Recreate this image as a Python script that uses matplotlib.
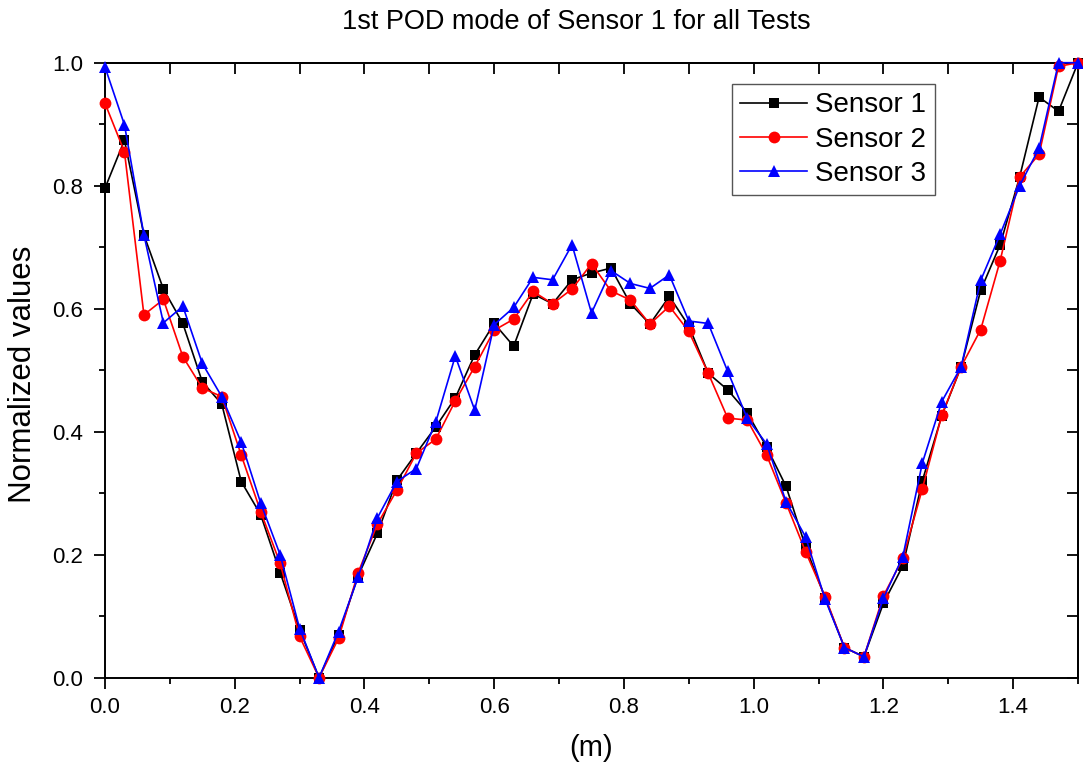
import matplotlib
matplotlib.use("Agg")
import matplotlib.pyplot as plt
from matplotlib.ticker import MultipleLocator
import numpy as np

plt.rcParams['font.family'] = ['Liberation Sans', 'DejaVu Sans']

# Position along the structure (m)
x_pos = [0.00, 0.03, 0.06, 0.09, 0.12, 0.15, 0.18, 0.21, 0.24, 0.27,
         0.30, 0.33, 0.36, 0.39, 0.42, 0.45, 0.48, 0.51, 0.54, 0.57,
         0.60, 0.63, 0.66, 0.69, 0.72, 0.75, 0.78, 0.81, 0.84, 0.87,
         0.90, 0.93, 0.96, 0.99, 1.02, 1.05, 1.08, 1.11, 1.14, 1.17,
         1.20, 1.23, 1.26, 1.29, 1.32, 1.35, 1.38, 1.41, 1.44, 1.47, 1.50]

sensor1 = [0.796, 0.874, 0.720, 0.632, 0.576, 0.481, 0.445, 0.319, 0.265, 0.171,
           0.078, 0.000, 0.070, 0.165, 0.235, 0.321, 0.365, 0.408, 0.455, 0.525,
           0.576, 0.539, 0.624, 0.608, 0.647, 0.658, 0.666, 0.608, 0.575, 0.620,
           0.572, 0.495, 0.468, 0.431, 0.375, 0.311, 0.213, 0.130, 0.049, 0.034,
           0.121, 0.182, 0.320, 0.426, 0.506, 0.630, 0.704, 0.814, 0.944, 0.921, 1.000]

sensor2 = [0.934, 0.855, 0.590, 0.615, 0.522, 0.471, 0.457, 0.362, 0.270, 0.186,
           0.067, 0.000, 0.064, 0.170, 0.250, 0.305, 0.365, 0.388, 0.450, 0.506,
           0.565, 0.583, 0.628, 0.608, 0.632, 0.673, 0.629, 0.614, 0.575, 0.604,
           0.563, 0.495, 0.422, 0.419, 0.362, 0.284, 0.205, 0.132, 0.049, 0.034,
           0.133, 0.194, 0.307, 0.427, 0.506, 0.566, 0.678, 0.814, 0.851, 0.994, 1.000]

sensor3 = [0.993, 0.899, 0.720, 0.577, 0.604, 0.511, 0.457, 0.383, 0.284, 0.200,
           0.080, 0.000, 0.075, 0.163, 0.260, 0.319, 0.340, 0.416, 0.523, 0.435,
           0.574, 0.602, 0.651, 0.647, 0.704, 0.593, 0.662, 0.641, 0.633, 0.655,
           0.580, 0.576, 0.498, 0.422, 0.380, 0.286, 0.229, 0.128, 0.049, 0.034,
           0.129, 0.197, 0.349, 0.449, 0.506, 0.646, 0.721, 0.800, 0.861, 1.000, 1.000]

labels = ["Sensor 1", "Sensor 2", "Sensor 3"]
colors = ["#000000", "#ff0000", "#0000ff"]
markers = ["s", "o", "^"]
msizes = [7.5, 8.5, 9]

W, H = 1083, 774
fig = plt.figure(figsize=(W / 100, H / 100), dpi=100)
ax = fig.add_axes([105 / W, 1 - 677.7 / H, (1078 - 105) / W, (677.7 - 62.7) / H])

for ys, lab, c, m, ms in zip([sensor1, sensor2, sensor3], labels, colors, markers, msizes):
    ax.plot(x_pos, ys, color=c, marker=m, markersize=ms, linewidth=1.2,
            markeredgewidth=0, label=lab, clip_on=False, zorder=3)

ax.set_xlim(0, 1.5)
ax.set_ylim(0, 1.0)
ax.xaxis.set_major_locator(MultipleLocator(0.2))
ax.xaxis.set_minor_locator(MultipleLocator(0.1))
ax.yaxis.set_major_locator(MultipleLocator(0.2))
ax.yaxis.set_minor_locator(MultipleLocator(0.1))
ax.xaxis.set_major_formatter(matplotlib.ticker.FormatStrFormatter('%.1f'))
ax.yaxis.set_major_formatter(matplotlib.ticker.FormatStrFormatter('%.1f'))

for s in ax.spines.values():
    s.set_linewidth(1.4)

ax.tick_params(which='both', direction='out', bottom=True, left=True,
               top=False, right=False, width=1.3, labelsize=16, colors='black')
ax.tick_params(which='major', length=8)
ax.tick_params(axis='x', which='major', pad=6)
ax.tick_params(axis='y', which='major', pad=8)
ax.tick_params(which='minor', length=4.5)

# mirrored inward ticks on top and right
secx = ax.secondary_xaxis('top')
secx.xaxis.set_major_locator(MultipleLocator(0.2))
secx.xaxis.set_minor_locator(MultipleLocator(0.1))
secx.tick_params(which='both', direction='in', width=1.3, labeltop=False)
secx.tick_params(which='major', length=8)
secx.tick_params(which='minor', length=8)
secy = ax.secondary_yaxis('right')
secy.yaxis.set_major_locator(MultipleLocator(0.2))
secy.yaxis.set_minor_locator(MultipleLocator(0.1))
secy.tick_params(which='both', direction='in', width=1.3, labelright=False)
secy.tick_params(which='major', length=8)
secy.tick_params(which='minor', length=8)
for sa in (secx, secy):
    for s in sa.spines.values():
        s.set_linewidth(1.4)

fig.text(576 / W, 1 - 22 / H, "1st POD mode of Sensor 1 for all Tests",
         ha='center', va='center', fontsize=19.5)
fig.text(23 / W, 1 - 374 / H, "Normalized values", rotation=90,
         ha='center', va='center', fontsize=22.5)
fig.text(591 / W, 1 - 748 / H, "(m)", ha='center', va='center', fontsize=21)

leg = ax.legend(loc='upper left', bbox_to_anchor=((732 - 105) / 973, (677.7 - 84) / 615),
                fontsize=20, frameon=True, fancybox=False, framealpha=1,
                edgecolor='#555555', borderpad=0.3, labelspacing=0.3,
                handlelength=2.4, handletextpad=0.3, borderaxespad=0)
leg.get_frame().set_linewidth(1.0)

fig.savefig("out.png", dpi=100)
